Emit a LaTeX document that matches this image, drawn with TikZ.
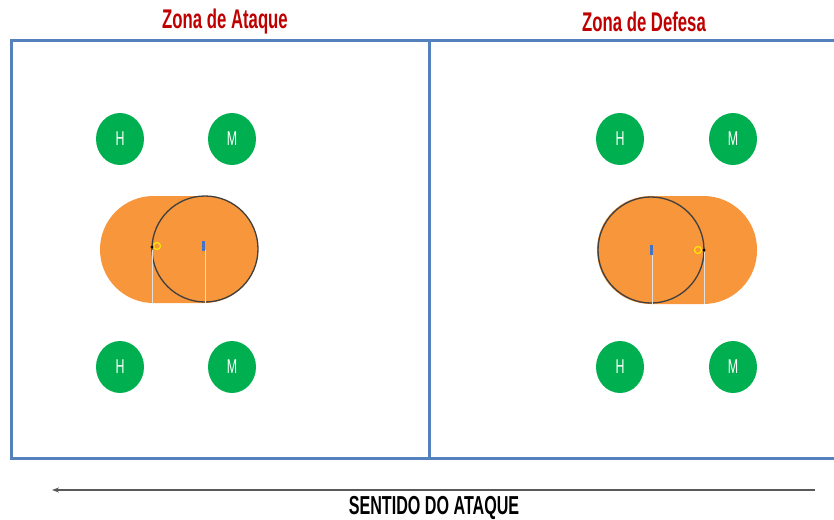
\documentclass[tikz,border=0pt]{standalone}
\usepackage{fontspec}
\setmainfont{Liberation Sans}
\newfontfamily\condfont[FakeStretch=0.62]{Liberation Sans}
\usepackage{tikz}
\usetikzlibrary{arrows.meta, shapes.geometric, positioning}
\usepackage{xcolor}
\definecolor{ZoneRed}{HTML}{C00000}
\definecolor{FieldBlue}{HTML}{5581BC}
\definecolor{PlayerGreen}{HTML}{00B050}
\definecolor{BallOrange}{HTML}{F7963A}
\definecolor{MarkBlue}{HTML}{4472C4}

\begin{document}
\begin{tikzpicture}[x=1pt, y=-1pt,
    title/.style={font=\condfont\bfseries\fontsize{27}{27}\selectfont, text=ZoneRed},
    player/.style={ellipse, fill=PlayerGreen, minimum width=48pt, minimum height=52pt,
                   inner sep=0pt, text=white, font=\condfont\fontsize{20}{20}\selectfont},
    field/.style={draw=FieldBlue, line width=3pt},
    guide/.style={draw=black!12, line width=0.6pt},
    ring/.style={draw=black!75, line width=1.3pt, fill=BallOrange},
    arrow/.style={-{Stealth[length=7pt, width=5pt]}, line width=1.2pt, color=black!65}
]
    \useasboundingbox (0,0) rectangle (834,519);
    % campo
    \draw[field] (834,41) -- (11,41) -- (11,458) -- (834,458);
    \draw[field] (429,41) -- (429,458);
    \node[title] (tA) at (225,22) {Zona de Ataque};
    \node[title] (tD) at (644,22) {Zona de Defesa};
    % jogadores
    \node[player] (hA1) at (120,139) {H};
    \node[player] (mA1) at (232,139) {M};
    \node[player] (hA2) at (120,367) {H};
    \node[player] (mA2) at (232,367) {M};
    \node[player] (hD1) at (620,139) {H};
    \node[player] (mD1) at (733,139) {M};
    \node[player] (hD2) at (620,367) {H};
    \node[player] (mD2) at (733,367) {M};
    % zona de ataque
    \fill[BallOrange, rounded corners=53.5pt] (100,196) rectangle (258,303);
    \draw[ring] (205,249) circle[radius=53];
    \draw[guide] (152,250) -- (152,303);
    \draw[guide] (205,250) -- (205,303);
    \draw[yellow!90!orange, line width=1.2pt] (157,246) circle[radius=3.5];
    \fill[black] (152,247) circle[radius=1.6];
    \fill[MarkBlue] (202,241) rectangle (205,251);
    % zona de defesa
    \fill[BallOrange, rounded corners=53.5pt] (597,196) rectangle (757,304);
    \draw[ring] (651,250) circle[radius=53];
    \draw[guide] (652,252) -- (652,304);
    \draw[guide] (704,252) -- (704,304);
    \draw[yellow!90!orange, line width=1.2pt] (698,250) circle[radius=3.5];
    \fill[black] (704,250) circle[radius=1.6];
    \fill[MarkBlue] (650,245) rectangle (653,255);
    % sentido
    \coordinate (arrTail) at (815,490);
    \coordinate (arrHead) at (52,490);
    \draw[arrow] (arrTail) -- (arrHead);
    \node[font=\condfont\bfseries\fontsize{26}{26}\selectfont] (sent) at (434,508) {SENTIDO DO ATAQUE};
\end{tikzpicture}
\end{document}
